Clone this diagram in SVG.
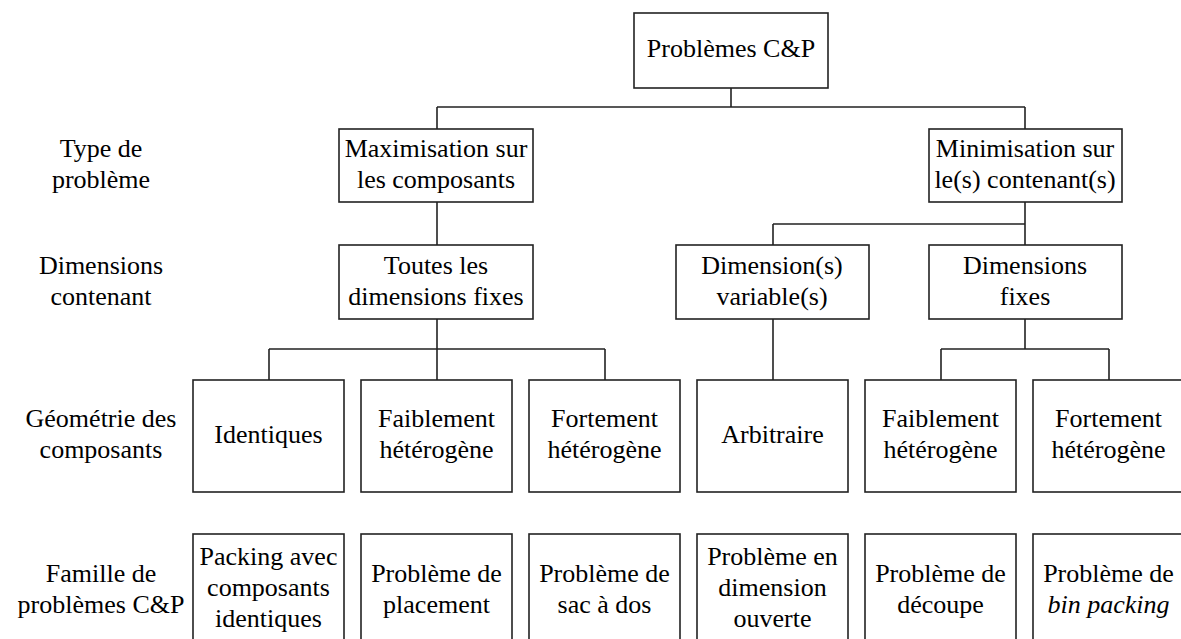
<svg xmlns="http://www.w3.org/2000/svg" width="1181" height="639" viewBox="0 0 1181 639">
<style>
rect.n{fill:#fff;stroke:#222;stroke-width:1.6}
text{font-family:"Liberation Serif",Tinos,"Noto Serif","DejaVu Serif","Times New Roman",Times,FreeSerif,Georgia,serif;font-size:26px;fill:#000;text-anchor:middle}
.c path{stroke:#222;stroke-width:1.6;fill:none}
</style>
<rect width="1181" height="639" fill="#fff"/>
<g class="c" id="connectors">
<path d="M731,88V107M437,107H1025M437,107V129M1025,107V129"/>
<path d="M437,202V245"/>
<path d="M1025,202V245M773,224H1025M773,224V245"/>
<path d="M437,319V380M269,349H605M269,349V380M605,349V380"/>
<path d="M773,319V380"/>
<path d="M1025,319V349M941,349H1109M941,349V380M1109,349V380"/>
</g>
<g id="labels">
<text x="101" y="157">Type de</text><text x="101" y="188">problème</text>
<text x="101" y="274">Dimensions</text><text x="101" y="305">contenant</text>
<text x="101" y="427">Géométrie des</text><text x="101" y="458">composants</text>
<text x="101" y="582">Famille de</text><text x="101" y="613">problèmes C&amp;P</text>
</g>
<g id="root"><rect class="n" x="634" y="13" width="194" height="75"/><text x="731" y="57">Problèmes C&amp;P</text></g>
<g id="max"><rect class="n" x="339" y="129" width="194" height="73"/><text x="436" y="157">Maximisation sur</text><text x="436" y="188">les composants</text></g>
<g id="min"><rect class="n" x="929" y="129" width="193" height="73"/><text x="1025" y="157">Minimisation sur</text><text x="1025" y="188">le(s) contenant(s)</text></g>
<g id="toutes"><rect class="n" x="339" y="245" width="194" height="74"/><text x="436" y="274">Toutes les</text><text x="436" y="305">dimensions fixes</text></g>
<g id="dimvar"><rect class="n" x="676" y="245" width="193" height="74"/><text x="772" y="274">Dimension(s)</text><text x="772" y="305">variable(s)</text></g>
<g id="dimfix"><rect class="n" x="929" y="245" width="193" height="74"/><text x="1025" y="274">Dimensions</text><text x="1025" y="305">fixes</text></g>
<g id="g1"><rect class="n" x="193" y="380" width="151" height="112"/><text x="268.5" y="443">Identiques</text></g>
<g id="g2"><rect class="n" x="361" y="380" width="151" height="112"/><text x="436.5" y="427">Faiblement</text><text x="436.5" y="458">hétérogène</text></g>
<g id="g3"><rect class="n" x="529" y="380" width="151" height="112"/><text x="604.5" y="427">Fortement</text><text x="604.5" y="458">hétérogène</text></g>
<g id="g4"><rect class="n" x="697" y="380" width="151" height="112"/><text x="772.5" y="443">Arbitraire</text></g>
<g id="g5"><rect class="n" x="865" y="380" width="151" height="112"/><text x="940.5" y="427">Faiblement</text><text x="940.5" y="458">hétérogène</text></g>
<g id="g6"><rect class="n" x="1033" y="380" width="151" height="112"/><text x="1108.5" y="427">Fortement</text><text x="1108.5" y="458">hétérogène</text></g>
<g id="f1"><rect class="n" x="193" y="534" width="151" height="112"/><text x="268.5" y="565">Packing avec</text><text x="268.5" y="596">composants</text><text x="268.5" y="627">identiques</text></g>
<g id="f2"><rect class="n" x="361" y="534" width="151" height="112"/><text x="436.5" y="582">Problème de</text><text x="436.5" y="613">placement</text></g>
<g id="f3"><rect class="n" x="529" y="534" width="151" height="112"/><text x="604.5" y="582">Problème de</text><text x="604.5" y="613">sac à dos</text></g>
<g id="f4"><rect class="n" x="697" y="534" width="151" height="112"/><text x="772.5" y="565">Problème en</text><text x="772.5" y="596">dimension</text><text x="772.5" y="627">ouverte</text></g>
<g id="f5"><rect class="n" x="865" y="534" width="151" height="112"/><text x="940.5" y="582">Problème de</text><text x="940.5" y="613">découpe</text></g>
<g id="f6"><rect class="n" x="1033" y="534" width="151" height="112"/><text x="1108.5" y="582">Problème de</text><text x="1108.5" y="613" font-style="italic">bin packing</text></g>
</svg>
